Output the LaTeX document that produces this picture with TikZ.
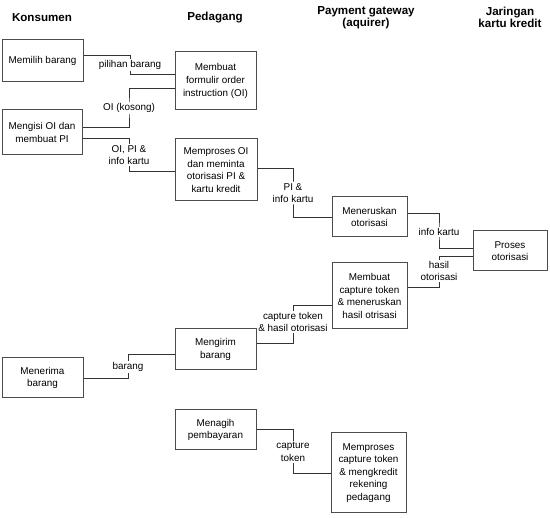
\documentclass[tikz,border=0pt]{standalone}
\usepackage{fontspec}
\setmainfont{Liberation Sans}
\begin{document}
\begin{tikzpicture}[x=1pt,y=-1pt,
  box/.style={draw=black!70,line width=1pt,align=center,inner sep=0pt,font=\fontsize{9.9}{12.6}\selectfont},
  conn/.style={draw=black!80,line width=0.8pt},
  lbl/.style={fill=white,align=center,inner sep=1pt,font=\fontsize{9.9}{12.6}\selectfont},
  head/.style={align=center,font=\fontsize{11.6}{12}\selectfont\bfseries}]
\useasboundingbox (0,0) rectangle (550,518);
% headers
\node[head] (h1) at (42,17.5) {Konsumen};
\node[head] (h2) at (215,17.5) {Pedagang};
\node[head] (h3) at (366,17.5) {Payment gateway\\(aquirer)};
\node[head] (h4) at (510,17.5) {Jaringan\\kartu kredit};
% boxes
\node[box,minimum width=81,minimum height=42] (pilih) at (42.5,61) {Memilih barang};
\node[box,minimum width=81,minimum height=58] (formulir) at (215.5,81) {Membuat\\formulir order\\instruction (OI)};
\node[box,minimum width=80,minimum height=45] (isi) at (42,132.5) {Mengisi OI dan\\membuat PI};
\node[box,minimum width=82,minimum height=62] (prosesoi) at (216,170) {Memproses OI\\dan meminta\\otorisasi PI \&\\kartu kredit};
\node[box,minimum width=75,minimum height=40] (teruskan) at (369.5,217) {Meneruskan\\otorisasi};
\node[box,minimum width=74,minimum height=40] (otorisasi) at (510,251) {Proses\\otorisasi};
\node[box,minimum width=75,minimum height=66] (capture) at (369.5,296) {Membuat\\capture token\\\& meneruskan\\hasil otrisasi};
\node[box,minimum width=81,minimum height=41] (kirim) at (215.5,349.5) {Mengirim\\barang};
\node[box,minimum width=81,minimum height=40] (terima) at (42.5,378) {Menerima\\barang};
\node[box,minimum width=81,minimum height=40] (tagih) at (215.5,430) {Menagih\\pembayaran};
\node[box,minimum width=75,minimum height=80] (kredit) at (368.5,473) {Memproses\\capture token\\\& mengkredit\\rekening\\pedagang};
% connectors
\draw[conn] ([yshift=6pt]pilih.east) -| (130,65) |- ([yshift=7pt]formulir.west);
\node[lbl] (l1) at (130,65) {pilihan barang};
\draw[conn] ([yshift=-7pt]formulir.west) -| (129,108) |- ([yshift=5.5pt]isi.east);
\node[lbl] (l2) at (129,108) {OI (kosong)};
\draw[conn] ([yshift=-5.5pt]isi.east) -| (129,155) |- ([yshift=-1pt]prosesoi.west);
\node[lbl] (l3) at (129,155) {OI, PI \&\\info kartu};
\draw[conn] ([yshift=2pt]prosesoi.east) -| (293,193) |- (teruskan.west);
\node[lbl] (l4) at (293,193) {PI \&\\info kartu};
\draw[conn] ([yshift=4pt]teruskan.east) -| (439,232) |- ([yshift=3pt]otorisasi.west);
\node[lbl] (l5) at (439,232) {info kartu};
\draw[conn] ([yshift=-5pt]otorisasi.west) -| (439,271) |- ([yshift=9pt]capture.east);
\node[lbl] (l6) at (439,271) {hasil\\otorisasi};
\draw[conn] ([yshift=-9pt]capture.west) -| (293,322) |- ([yshift=6.5pt]kirim.east);
\node[lbl] (l7) at (293,322) {capture token\\\& hasil otorisasi};
\draw[conn] ([yshift=-4.5pt]kirim.west) -| (128,367) |- (terima.east);
\node[lbl] (l8) at (128,367) {barang};
\draw[conn] ([yshift=1pt]tagih.east) -| (293,452) |- (kredit.west);
\node[lbl] (l9) at (293,452) {capture\\token};
\end{tikzpicture}
\end{document}
